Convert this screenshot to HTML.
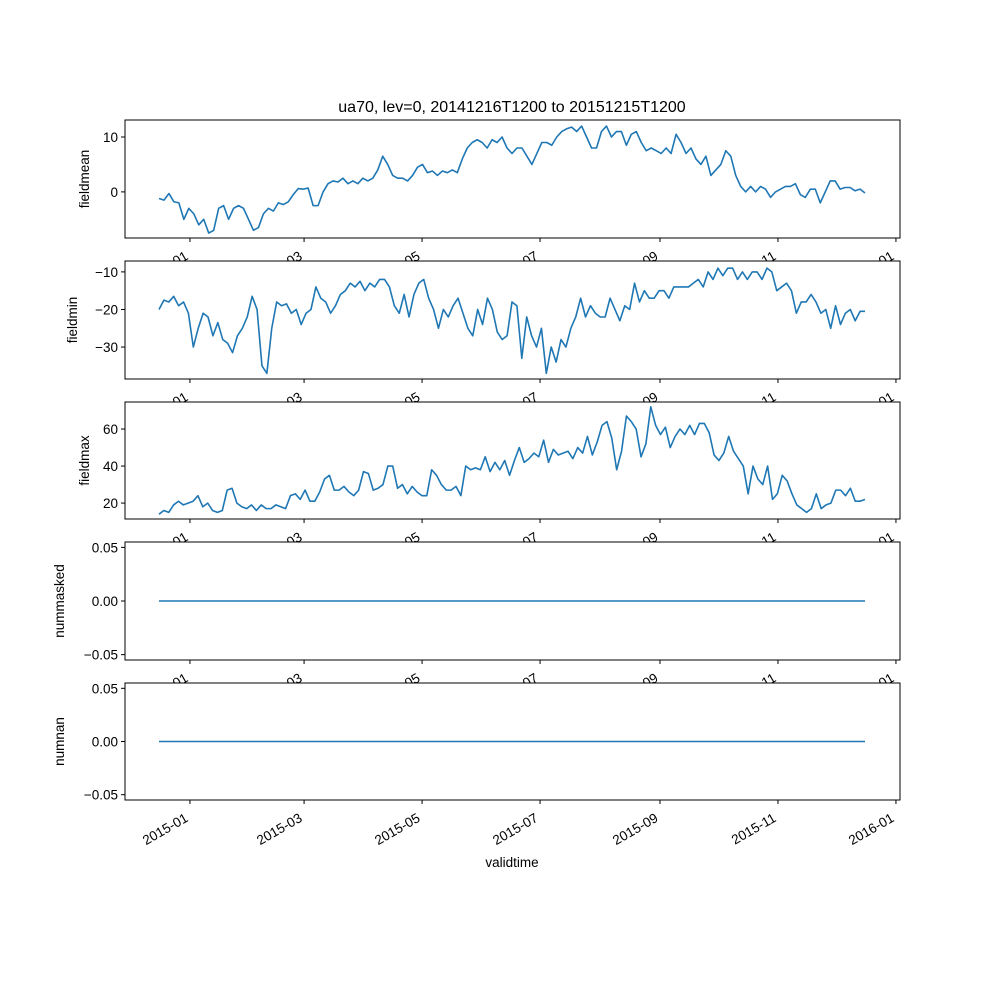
<!DOCTYPE html>
<html><head><meta charset="utf-8"><style>
body{margin:0;background:#fff}
svg text{font-family:"Liberation Sans","DejaVu Sans",sans-serif;fill:#000}
</style></head><body>
<svg id="fig" width="1000" height="1000" viewBox="0 0 1000 1000"></svg>
<script>
const startDay = 0, endDay = 365; // 2014-12-16 .. 2015-12-15
const tickLabels = ["2015-01","2015-03","2015-05","2015-07","2015-09","2015-11","2016-01"];
const tickDays = [16,75,136,197,259,320,381];
const fieldmean = [-1.2,-1.5,-0.3,-1.8,-2,-5,-3,-4,-6,-5,-7.5,-7,-3,-2.5,-5,-3,-2.5,-3,-5,-7,-6.5,-4,-3,-3.5,-2,-2.3,-1.8,-0.5,0.6,0.5,0.7,-2.5,-2.5,0,1.5,2,1.8,2.5,1.5,2,1.5,2.5,2,2.5,4,6.5,5,3,2.5,2.5,2,3,4.5,5,3.5,3.8,3,3.8,3.5,4,3.5,6,8,9,9.5,9,8,9.5,9,10,8,7,8,8,6.5,5,7,9,9,8.5,10,11,11.5,11.8,11,12,10,8,8,11,12,10,11,11,8.5,10.5,11,9,7.5,8,7.5,7,8,7,10.5,9,7,8,6,5,6.5,3,4,5,7.5,6.5,3,1,0,1,0,1,0.5,-1,0,0.5,1,1,1.5,-0.5,-1,0.5,0.5,-2,0,2,2,0.5,0.8,0.8,0.2,0.5,-0.2];
const fieldmin = [-20,-17.5,-18,-16.5,-19,-18,-21,-30,-25,-21,-22,-27,-23.5,-28,-29,-31.5,-27,-25,-22,-16.5,-20,-35,-37,-25,-18,-19,-18.5,-21,-20,-24,-21,-20,-14,-17,-18,-21,-19,-16,-15,-13,-14,-12.5,-15,-13,-14,-12,-12,-14,-19,-21,-16,-22,-16,-13,-12,-17,-20,-25,-20,-22,-19,-17,-21,-25,-27,-20,-24,-17,-20,-26,-28,-27,-18,-19,-33,-22,-27,-30,-25,-37,-30,-34,-28,-30,-25,-22,-17,-22,-19,-21,-22,-22,-17,-20,-23,-19,-20,-13,-18,-15,-17,-17,-15,-15,-17,-14,-14,-14,-14,-13,-12,-14,-10,-12,-9,-11,-9,-9,-12,-10,-12,-10,-10,-12,-9,-10,-15,-14,-13,-15,-21,-18,-18,-16,-18,-21,-20,-25,-19,-24,-21,-20,-23,-20.5,-20.5];
const fieldmax = [14,16,15,19,21,19,20,21,24,18,20,16,15,16,27,28,20,18,17,19,16,19,17,17,19,18,17,24,25,22,27,21,21,26,33,35,27,27,29,26,24,27,37,36,27,28,30,40,40,28,30,25,29,26,24,24,38,35,30,27,27,29,24,40,38,39,38,45,37,42,38,43,35,43,50,42,44,47,45,54,42,49,46,47,48,44,50,47,56,46,53,62,64,55,38,48,67,64,60,45,52,72,62,57,61,50,56,60,57,62,57,63,63,58,46,43,47,56,48,44,40,25,40,33,30,40,22,25,35,32,25,19,17,15,17,25,17,19,20,27,27,24,28,21,21,22];
const nummasked = [0,0];
const numnan = [0,0];

const svg = document.getElementById('fig');
const NS = 'http://www.w3.org/2000/svg';
function mk(tag, attrs, parent){const e=document.createElementNS(NS,tag);for(const k in attrs)e.setAttribute(k,attrs[k]);(parent||svg).appendChild(e);return e;}
const L=125,R=900;
const xScale = d => 159 + (d - startDay) * (865-159)/(endDay-startDay);

const panels = [
 {name:'fieldmean',data:fieldmean,top:120,bot:238,ymin:-8.4,ymax:13.1,ticks:[0,10],fmt:v=>String(v)},
 {name:'fieldmin',data:fieldmin,top:261,bot:379,ymin:-38.5,ymax:-7.1,ticks:[-30,-20,-10],fmt:v=>String(v).replace('-','\u2212')},
 {name:'fieldmax',data:fieldmax,top:402,bot:519,ymin:11.4,ymax:74.6,ticks:[20,40,60],fmt:v=>String(v)},
 {name:'nummasked',data:nummasked,top:542,bot:660,ymin:-0.055,ymax:0.055,ticks:[-0.05,0,0.05],fmt:v=>v.toFixed(2).replace('-','\u2212')},
 {name:'numnan',data:numnan,top:683,bot:800,ymin:-0.055,ymax:0.055,ticks:[-0.05,0,0.05],fmt:v=>v.toFixed(2).replace('-','\u2212')}
];

const title = mk('text',{x:512,y:112,'text-anchor':'middle','font-size':'16'});
title.textContent='ua70, lev=0, 20141216T1200 to 20151215T1200';



panels.forEach((p,pi)=>{
  const g = mk('g',{});
  
  
  const yS = v => p.bot - (v-p.ymin)*(p.bot-p.top)/(p.ymax-p.ymin);
  const bg = mk('rect',{x:L,y:p.top,width:R-L,height:p.bot-p.top,fill:'#fff'},g);
  
  
  const n=p.data.length;
  const pts=p.data.map((v,i)=>xScale(startDay+i*(endDay-startDay)/(n-1)).toFixed(2)+','+yS(v).toFixed(2)).join(' ');
  const line=mk('polyline',{points:pts,fill:'none',stroke:'#1f77b4','stroke-width':1.6,'stroke-linejoin':'round'},g);
  
  
  const frame=mk('rect',{x:L,y:p.top,width:R-L,height:p.bot-p.top,fill:'none',stroke:'#000','stroke-width':1},g);
  
  
  p.ticks.forEach(t=>{
    const y=yS(t);
    mk('line',{x1:L-4,x2:L,y1:y,y2:y,stroke:'#000'},g);
    const tx=mk('text',{x:L-7,y:y+5,'text-anchor':'end','font-size':'13.5'},g);
    tx.textContent=p.fmt(t);
    
    
  });
  const yl=mk('text',{transform:`translate(${pi>=3?64:(pi==1?77:89)},${(p.top+p.bot)/2}) rotate(-90)`,'text-anchor':'middle','font-size':'13.5'},g);
  yl.textContent=p.name;
  
  
  tickDays.forEach((d,i)=>{
    const x=xScale(d);
    mk('line',{x1:x,x2:x,y1:p.bot,y2:p.bot+4,stroke:'#000'},g);
    const tx=mk('text',{transform:`translate(${x-6},${p.bot+12}) rotate(-30)`,x:0,y:10,'text-anchor':'end','font-size':'13.5'},g);
    tx.textContent=tickLabels[i];
    
    
  });
});
const xl=mk('text',{x:512,y:867,'text-anchor':'middle','font-size':'13.5'});
xl.textContent='validtime';


</script>
</body></html>
